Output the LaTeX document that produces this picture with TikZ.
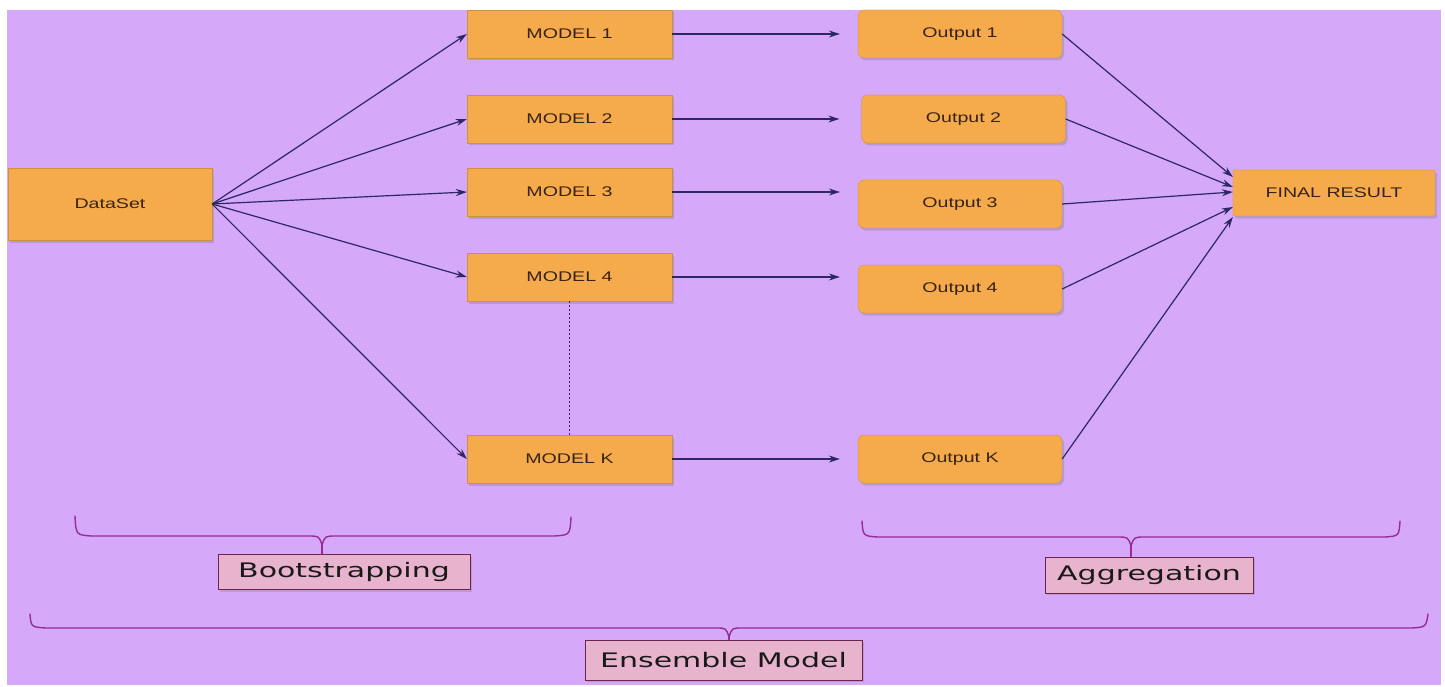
\documentclass[tikz,border=0pt]{standalone}
\usepackage{fontspec}
\setmainfont[FakeStretch=1.4]{Liberation Sans}
\newfontfamily\handfont[FakeStretch=1.5]{DejaVu Sans}
\usetikzlibrary{arrows.meta,shadows,calc}
\definecolor{bgpurple}{RGB}{213,168,250}
\definecolor{boxorange}{RGB}{245,170,75}
\definecolor{arrowblue}{RGB}{45,40,100}
\definecolor{textbrown}{RGB}{55,35,20}
\definecolor{bracepurple}{RGB}{150,45,150}
\definecolor{labelpink}{RGB}{232,180,205}
\definecolor{labelborder}{RGB}{110,35,75}
\begin{document}
\begin{tikzpicture}[x=1pt,y=-1pt,
  box/.style={rectangle, fill=boxorange, draw=boxorange!85!black, line width=0.3pt,
    minimum height=48pt, inner sep=0pt, font=\fontsize{14}{16}\selectfont, text=textbrown,
    drop shadow={shadow xshift=2pt,shadow yshift=-2.5pt,opacity=0.35}},
  modelbox/.style={box, minimum width=205pt},
  outbox/.style={box, minimum width=204pt, rounded corners=6pt},
  conn/.style={draw=arrowblue, line width=1.2pt, -{Stealth[length=11pt,width=7pt]}},
  lbl/.style={rectangle, fill=labelpink, draw=labelborder, line width=1pt,
    font=\handfont\fontsize{20}{22}\selectfont, text=black!90, inner sep=0pt,
    drop shadow={shadow xshift=2pt,shadow yshift=-2pt,opacity=0.3}},
  brc/.style={draw=bracepurple, line width=1.4pt, line cap=round, line join=round},
  dots/.style={draw=arrowblue!80!purple, line width=1pt, dash pattern=on 2pt off 2pt}
]
\fill[white] (0,0) rectangle (1445,687);
\fill[bgpurple] (7,10) rectangle (1441,685);
\useasboundingbox (0,0) rectangle (1445,687);

% nodes
\node[box, minimum width=204pt, minimum height=72pt] (ds) at (110,204) {DataSet};
\node[modelbox] (m1) at (569.5,34) {MODEL 1};
\node[modelbox] (m2) at (569.5,119) {MODEL 2};
\node[modelbox] (m3) at (569.5,192) {MODEL 3};
\node[modelbox] (m4) at (569.5,277) {MODEL 4};
\node[modelbox] (mk) at (569.5,459) {MODEL K};
\node[outbox] (o1) at (960,34) {Output 1};
\node[outbox] (o2) at (963.5,119) {Output 2};
\node[outbox] (o3) at (960,204) {Output 3};
\node[outbox] (o4) at (960,289) {Output 4};
\node[outbox] (ok) at (960,459) {Output K};
\node[box, minimum width=202pt, minimum height=46pt, rounded corners=2pt] (fr) at (1334,193) {FINAL RESULT};

% dataset to models
\draw[conn] (ds.east) -- (m1.west);
\draw[conn] (ds.east) -- (m2.west);
\draw[conn] (ds.east) -- (m3.west);
\draw[conn] (ds.east) -- (m4.west);
\draw[conn] (ds.east) -- (mk.west);

% models to outputs
\draw[conn, shorten >=18pt] (m1.east) -- (m1.east -| o1.west);
\draw[conn, shorten >=22pt] (m2.east) -- (m2.east -| o2.west);
\draw[conn, shorten >=18pt] (m3.east) -- (m3.east -| o3.west);
\draw[conn, shorten >=18pt] (m4.east) -- (m4.east -| o4.west);
\draw[conn, shorten >=18pt] (mk.east) -- (mk.east -| ok.west);

% outputs to final
\draw[conn] (o1.east) -- ([yshift=16pt]fr.west);
\draw[conn] (o2.east) -- ([yshift=6pt]fr.west);
\draw[conn] (o3.east) -- ([yshift=1pt]fr.west);
\draw[conn] (o4.east) -- ([yshift=-14pt]fr.west);
\draw[conn] (ok.east) -- ([yshift=-24pt]fr.west);

% dotted link
\draw[dots] (m4.south) -- (mk.north);

% labels
\node[lbl, minimum width=252pt, minimum height=35pt] (boot) at (344,572) {Bootstrapping};
\node[lbl, minimum width=208pt, minimum height=36pt] (aggr) at (1149,575) {Aggregation};
\node[lbl, minimum width=277pt, minimum height=40pt] (ens) at (723.5,660) {Ensemble Model};

% braces
\coordinate (b1p) at (322,545);
\draw[brc] (75,516) .. controls (76,535) .. (92,536) -- (308,536) .. controls (319,536) .. (b1p)
  .. controls (325,536) .. (336,536) -- (554,536) .. controls (570,535) .. (571,517);
\draw[brc] (b1p) -- (b1p |- boot.north);

\coordinate (b2p) at (1131,546);
\draw[brc] (862,521) .. controls (863,536) .. (878,537) -- (1117,537) .. controls (1128,537) .. (b2p)
  .. controls (1134,537) .. (1145,537) -- (1385,537) .. controls (1399,536) .. (1400,521);
\draw[brc] (b2p) -- (b2p |- aggr.north);

\coordinate (b3p) at (729,637);
\draw[brc] (30,614) .. controls (31,627) .. (46,628) -- (716,628) .. controls (726,628) .. (b3p)
  .. controls (732,628) .. (742,628) -- (1412,628) .. controls (1426,627) .. (1428,614);
\draw[brc] (b3p) -- (b3p |- ens.north);
\end{tikzpicture}
\end{document}
